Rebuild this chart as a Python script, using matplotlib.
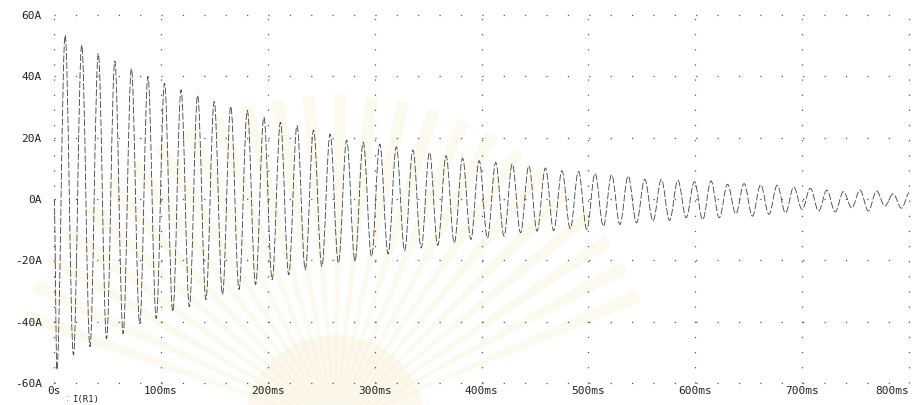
import matplotlib
matplotlib.use('Agg')
import matplotlib.pyplot as plt
from matplotlib.path import Path
from matplotlib.patches import PathPatch, Wedge
import numpy as np

# I(R1) extremes, one per half-cycle (A), negative and positive alternating
neg_peaks = [-55.7, -50.8, -48.2, -45.6, -43.9, -40.7, -39.0, -36.7, -35.1, -32.8, -31.1, -29.5, -27.9,
             -26.3, -24.7, -23.0, -22.0, -20.9, -20.1, -18.7, -17.9, -16.8, -16.0, -15.1, -14.3, -13.2,
             -12.7, -12.1, -11.0, -10.5, -10.3, -9.6, -9.9, -8.9, -8.3, -7.8, -7.2, -7.0, -6.1,
             -6.7, -6.1, -4.8, -5.6, -5.0, -4.5, -3.4, -3.9, -4.2, -2.9, -3.9, -2.3, -3.0]
pos_peaks = [53.4, 50.2, 47.4, 45.0, 42.5, 40.0, 37.8, 35.6, 33.8, 31.8, 30.2, 28.9, 26.7,
             25.0, 23.9, 22.5, 21.2, 19.2, 18.5, 17.9, 17.0, 16.0, 15.2, 14.1, 13.3, 12.5,
             11.9, 11.4, 10.8, 10.1, 9.2, 9.0, 8.3, 7.9, 7.5, 6.4, 6.4, 6.1, 5.7,
             5.9, 4.8, 5.0, 4.6, 4.5, 3.9, 3.5, 2.9, 2.4, 2.9, 2.6, 1.7, 2.2]
first_peak_ms = 2.5
half_period_ms = 7.75

x_ticks = [0, 100, 200, 300, 400, 500, 600, 700, 800]
x_labels = ['0s', '100ms', '200ms', '300ms', '400ms', '500ms', '600ms', '700ms', '800ms']
y_ticks = [60, 40, 20, 0, -20, -40, -60]
y_labels = ['60A', '40A', '20A', '0A', '-20A', '-40A', '-60A']

plt.rcParams['lines.scale_dashes'] = False

fig = plt.figure(figsize=(9.13, 4.05), dpi=100)
ax = fig.add_axes([54.2 / 913, 22 / 405, 854.7 / 913, 368 / 405])
ax.set_zorder(2)
ax.patch.set_alpha(0)

# very faint sunburst emblem behind the plot
for ang in np.arange(22, 160, 5.5):
    fig.patches.append(Wedge((3.35, -0.2), 3.3, ang, ang + 2.2, transform=fig.dpi_scale_trans,
                             facecolor='#f7efd2', edgecolor='none', alpha=0.35, zorder=-2))
fig.patches.append(Wedge((3.35, -0.2), 0.9, 0, 180, transform=fig.dpi_scale_trans,
                         facecolor='#f6ebc6', edgecolor='none', alpha=0.3, zorder=-2))

# waveform: cosine-like half-cycles between successive extremes
extremes = []
for n, p in zip(neg_peaks, pos_peaks):
    extremes += [n, p]
times = first_peak_ms + half_period_ms * np.arange(len(extremes))

verts = [(0.0, 0.0)]
codes = [Path.MOVETO]
prev_t, prev_y = 0.0, 0.0
k = 0.3634
for t, y in zip(times, extremes):
    h = t - prev_t
    verts += [(prev_t + k * h, prev_y), (t - k * h, y), (t, y)]
    codes += [Path.CURVE4] * 3
    prev_t, prev_y = t, y
wave = PathPatch(Path(verts, codes), fill=False, edgecolor='#404040', linewidth=0.6,
                 linestyle=(0, (5, 1.5)), zorder=3)
ax.add_patch(wave)

ax.set_xlim(0, 800)
ax.set_ylim(-60, 60)
ax.set_xticks(x_ticks)
ax.set_xticklabels(x_labels)
ax.set_yticks(y_ticks)
ax.set_yticklabels(y_labels)
ax.xaxis.get_majorticklabels()[-1].set_ha('right')

# dotted grid and frame
for yv in y_ticks:
    ax.axhline(yv, color='#555555', linewidth=0.9, linestyle=(0, (0.9, 14.5)), clip_on=False, zorder=1)
for xv in x_ticks:
    ax.axvline(xv, color='#555555', linewidth=0.9, linestyle=(0, (0.9, 10)), clip_on=False, zorder=1)

for s in ax.spines.values():
    s.set_visible(False)
ax.tick_params(length=0, labelsize=8, colors='#222222')
for lab in ax.get_xticklabels() + ax.get_yticklabels():
    lab.set_family('DejaVu Sans Mono')
ax.tick_params(axis='y', pad=9)
ax.tick_params(axis='x', pad=2)

fig.text(66 / 913, 1 - 394 / 405, ':', fontsize=6, color='#555555', va='top')
fig.text(72 / 913, 1 - 395 / 405, 'I(R1)', fontsize=6.5, family='DejaVu Sans Mono', color='#222222', va='top')

fig.savefig('out.png', dpi=100)
